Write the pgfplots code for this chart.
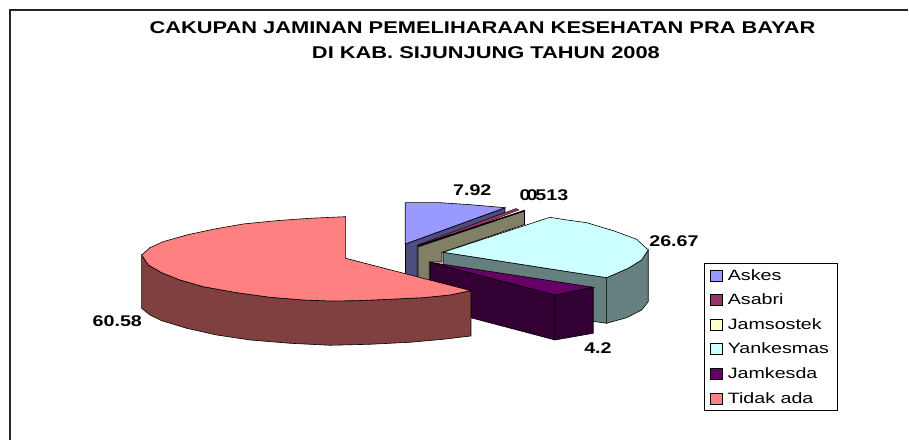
\documentclass[border=0pt]{standalone}
\usepackage{fontspec}
\usepackage{pgfplots}
\pgfplotsset{compat=1.18}
\setmainfont{Liberation Sans}
\newfontfamily\widefont[FakeStretch=1.27]{Liberation Sans}
\newfontfamily\legendfont[FakeStretch=1.31]{Liberation Sans}
\newfontfamily\titlefont[FakeStretch=1.285]{Liberation Sans}

\definecolor{cAskes}{HTML}{9999FF}
\definecolor{cAskesW}{HTML}{4D4D80}
\definecolor{cAsabri}{HTML}{993366}
\definecolor{cJamso}{HTML}{FFFFCC}
\definecolor{cJamsoW}{HTML}{808066}
\definecolor{cYank}{HTML}{CCFFFF}
\definecolor{cYankW}{HTML}{668080}
\definecolor{cJamk}{HTML}{660066}
\definecolor{cJamkW}{HTML}{330033}
\definecolor{cTidak}{HTML}{FF8080}
\definecolor{cTidakW}{HTML}{804040}

\begin{document}
\begin{tikzpicture}
\begin{axis}[
  scale only axis,
  width=909pt,height=441pt,
  xmin=0,xmax=909,ymin=0,ymax=441,
  y dir=reverse,
  hide axis,
  clip=false,
  legend style={at={(axis cs:704,263.5)},anchor=north west,draw=black,fill=white,
    font=\legendfont\fontsize{15}{15}\selectfont,row sep=8.2pt,inner xsep=6pt,inner ysep=3.5pt,line width=0.8pt},
  legend cell align=left,
  legend image code/.code={\draw[#1,line width=0.6pt] (0pt,-5.5pt) rectangle (11.5pt,5.5pt);\path (14.5pt,0pt);},
]
% keep the whole canvas in the page
\path (axis cs:0,0) (axis cs:909,441);

% frame, top and left only
\addplot[forget plot,black!85,line width=1.2pt] coordinates {(10,440.5)(10,10)(908.5,10)};

% Askes
\addplot[forget plot,fill=cAskesW,draw=black,line width=0.6pt] coordinates {(405.5,244)(505,208)(505,212.5)(417.3,245.5)(417.3,290)(405.5,290)} --cycle;
\addplot[fill=cAskes,draw=black,line width=0.6pt] coordinates {(405.3,202.7)(440,202.7)(470,204.7)(505,207.7)(405.3,244)} --cycle;
\addlegendentry{Askes}
% Asabri
\addplot[fill=cAsabri,draw=black,line width=0.3pt] coordinates {(418,245)(516,208.5)(519,210)(420,248)} --cycle;
\addlegendentry{Asabri}
% Jamsostek
\addplot[forget plot,fill=cJamsoW,draw=black,line width=0.6pt] coordinates {(418,247)(524.5,211)(524.5,224.5)(442,252.5)(442,262)(429.3,262)(429.3,290)(418,290)} --cycle;
\addplot[fill=cJamso,draw=black,line width=1.4pt] coordinates {(417.5,246)(525,210.5)} --cycle;
\addlegendentry{Jamsostek}
% Yankesmas
\addplot[forget plot,fill=cYankW,draw=black,line width=0.6pt] coordinates {(606.7,277.7)(628.3,268.3)(641.7,260)(648.3,250)(648.3,301.7)(641.7,310)(626.7,317.7)(606.7,323.3)} --cycle;
\addplot[forget plot,fill=cYankW,draw=black,line width=0.6pt] coordinates {(443.3,252.3)(606.7,277.7)(606.7,323.3)(443.3,300)} --cycle;
\addplot[fill=cYank,draw=black,line width=0.6pt] coordinates {(443.3,252.3)(550,217.3)(566.7,220)(586.7,222.7)(613.3,230.7)(636.7,239.3)(648.3,250)(641.7,260)(628.3,268.3)(606.7,277.7)} --cycle;
\addlegendentry{Yankesmas}
% Jamkesda
\addplot[forget plot,fill=cJamkW,draw=black,line width=0.6pt] coordinates {(430,262.3)(555,295)(555,340)(471.7,318)(430,308)} --cycle;
\addplot[forget plot,fill=cJamkW,draw=black,line width=0.6pt] coordinates {(555,295)(593.3,287.3)(593.3,333.3)(555,340)} --cycle;
\addplot[fill=cJamk,draw=black,line width=0.6pt] coordinates {(430,262.3)(593.3,287.3)(555,295)} --cycle;
\addlegendentry{Jamkesda}
% Tidak ada
\addplot[forget plot,fill=cTidakW,draw=black,line width=0.6pt] coordinates {(141.7,255)(148.3,265)(161.7,272.7)(180,280)(203.3,286.7)(236.7,292.7)(270,297.3)(303.3,300)(330,301)(356.7,300.7)(390,299.3)(423.3,297.7)(450,295)(471,290.7)(471,336)(443.3,339.3)(410,342.3)(370,344.3)(330,345.3)(290,343.3)(250,340)(216.7,335)(186.7,328.3)(161.7,320.7)(150,315)(141.7,308.3)} --cycle;
\addplot[fill=cTidak,draw=black,line width=0.6pt] coordinates {(345.7,216.7)(310,218.3)(276.7,220.7)(243.3,224)(213.3,229.3)(186.7,235)(163.3,241.7)(150,247.7)(141.7,255)(148.3,265)(161.7,272.7)(180,280)(203.3,286.7)(236.7,292.7)(270,297.3)(303.3,300)(330,301)(356.7,300.7)(390,299.3)(423.3,297.7)(450,295)(471,290.7)(345.7,258.3)} --cycle;
\addlegendentry{Tidak ada}

% title
\node[font=\titlefont\bfseries\fontsize{17}{17}\selectfont,anchor=center] at (axis cs:482.5,28) {CAKUPAN JAMINAN PEMELIHARAAN KESEHATAN PRA BAYAR};
\node[font=\titlefont\bfseries\fontsize{17}{17}\selectfont,anchor=center] at (axis cs:486,53) {DI KAB. SIJUNJUNG TAHUN 2008};

% value labels
\tikzset{val/.style={font=\widefont\bfseries\fontsize{15.5}{15.5}\selectfont,anchor=center,inner sep=0pt}}
\node[val] at (axis cs:472.3,190) {7.92};
\node[val] at (axis cs:544,195.5) {0\kern-4pt0\kern-2pt513};
\node[val] at (axis cs:674,240.7) {26.67};
\node[val] at (axis cs:598,347.7) {4.2};
\node[val] at (axis cs:117.3,320.7) {60.58};
\end{axis}
\end{tikzpicture}
\end{document}
